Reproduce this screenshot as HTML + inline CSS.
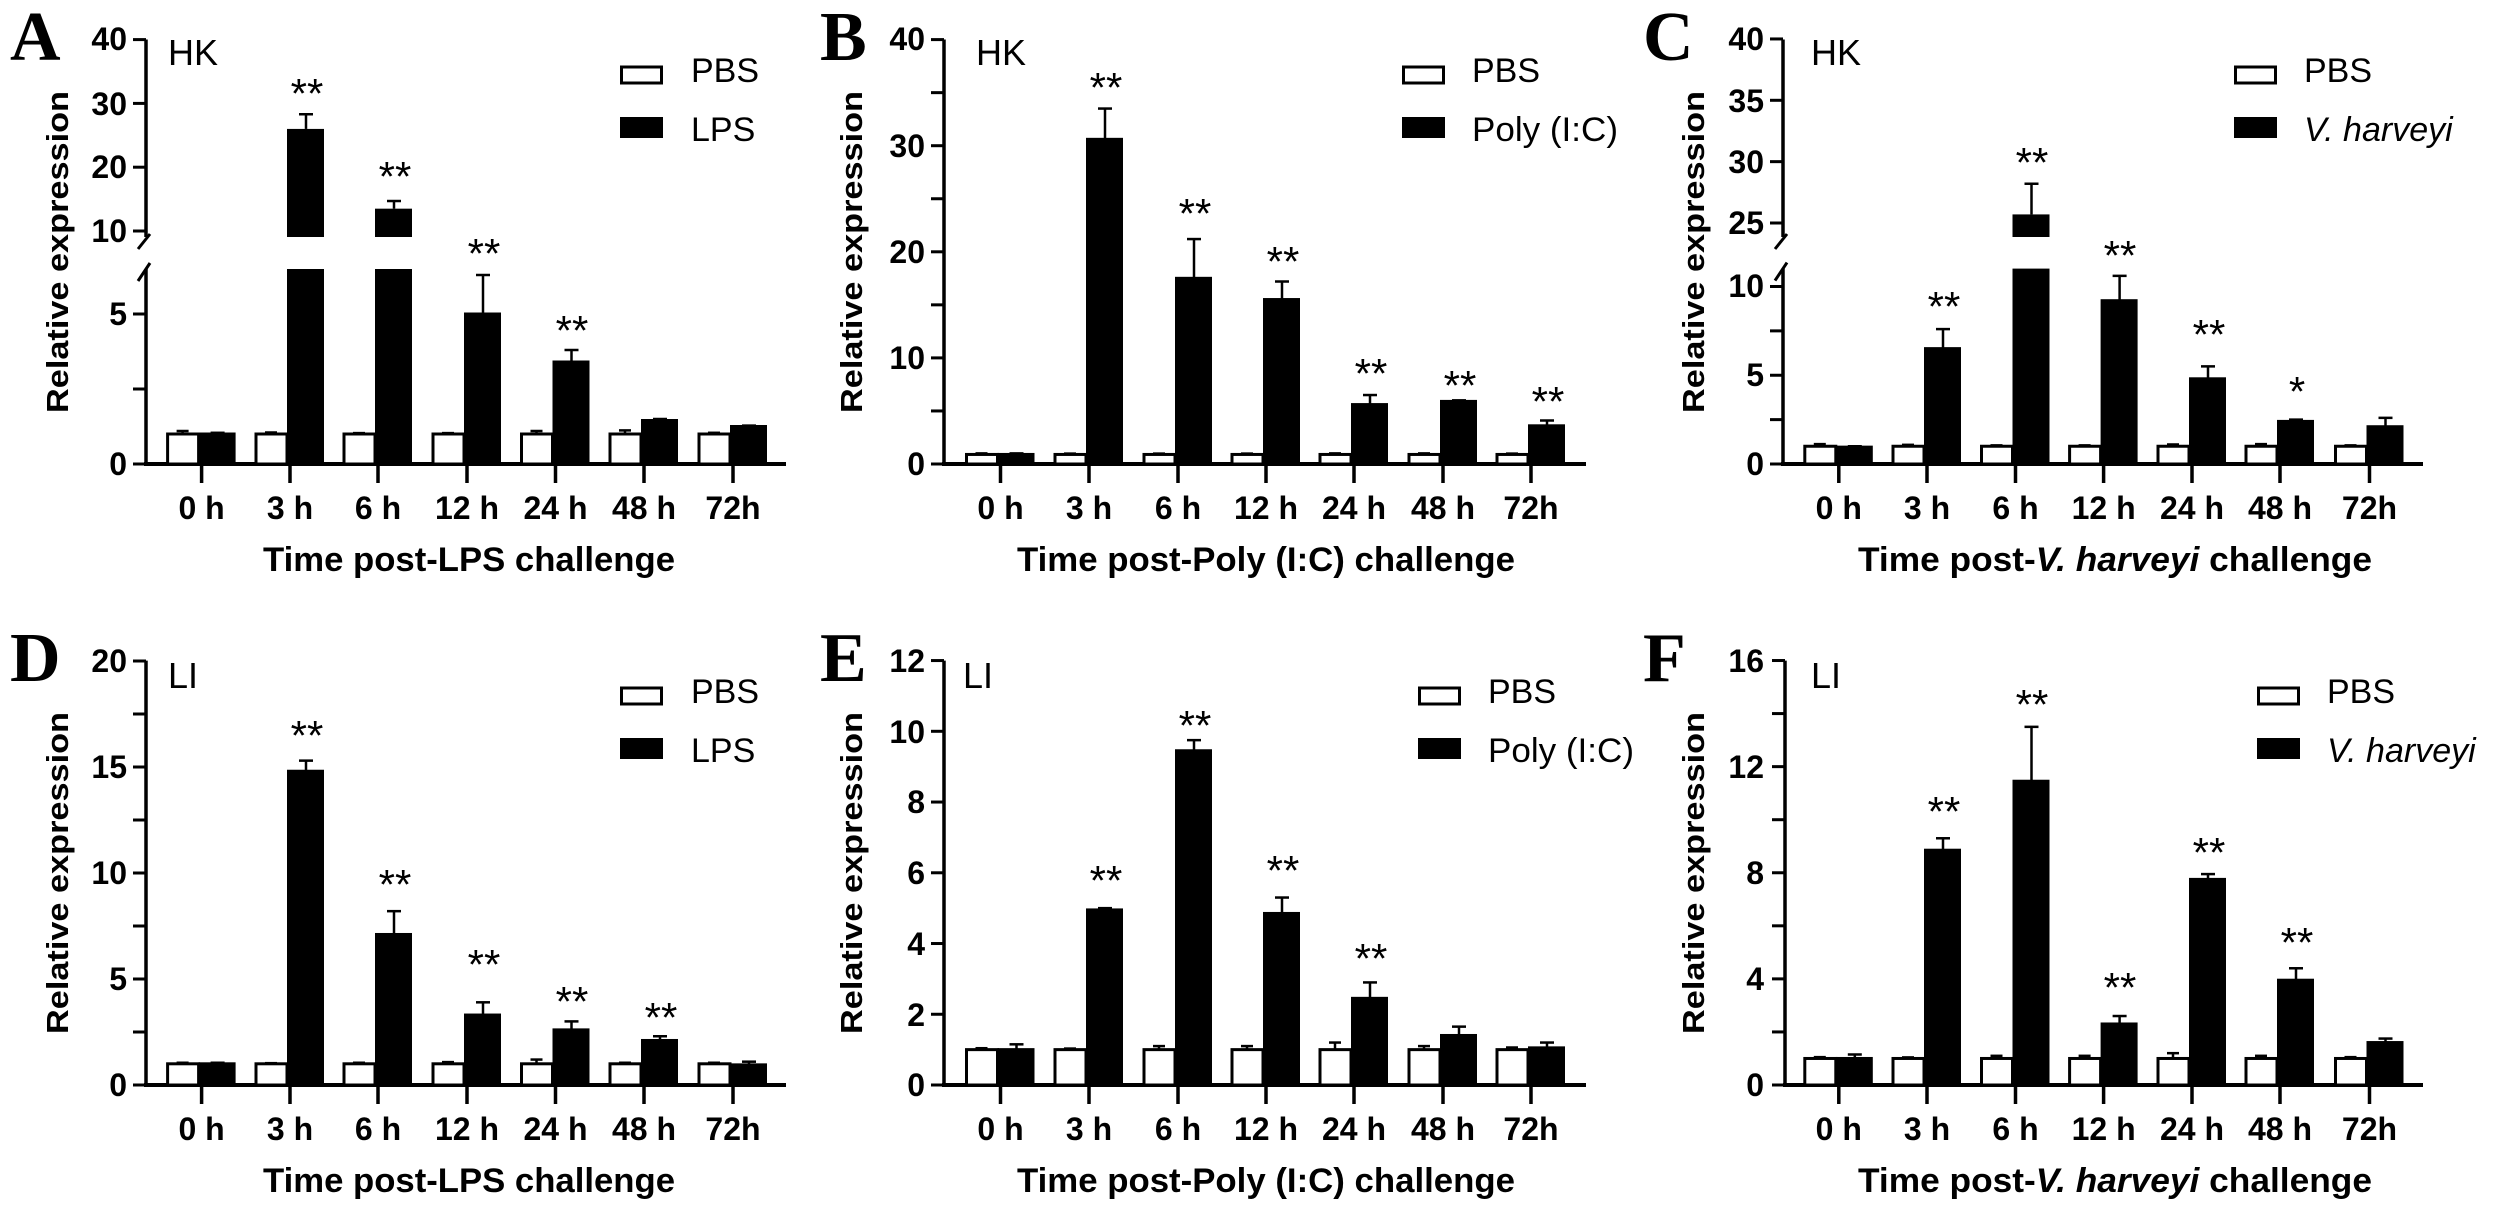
<!DOCTYPE html>
<html><head><meta charset="utf-8"><style>
html,body{margin:0;padding:0;background:#fff}
svg{display:block}
text{font-family:"Liberation Sans",Arial,sans-serif;fill:#000}
.t{font-weight:bold;font-size:32px}
.yl{font-weight:bold;font-size:32px;text-anchor:end}
.xl{font-weight:bold;font-size:32px;text-anchor:middle}
.tt{font-weight:bold;font-size:34px;text-anchor:middle}
.yt{font-weight:bold;font-size:31px;text-anchor:middle}
.lg{font-size:34px}
.st{font-size:42px;text-anchor:middle}
.pl{font-family:"Liberation Serif",serif;font-weight:bold;font-size:70px}
.hk{font-size:36px}
</style></head><body>
<svg id="s" width="2500" height="1213" viewBox="0 0 2500 1213" xmlns="http://www.w3.org/2000/svg">
<g id="g"></g>
<!-- panel letters -->
<text class="pl" x="10" y="60">A</text>
<text class="pl" x="820" y="60">B</text>
<text class="pl" x="1643" y="60">C</text>
<text class="pl" x="10" y="681">D</text>
<text class="pl" x="820" y="681">E</text>
<text class="pl" x="1643" y="681">F</text>
<!-- HK / LI -->
<text class="hk" x="168" y="65">HK</text>
<text class="hk" x="976" y="65">HK</text>
<text class="hk" x="1811" y="65">HK</text>
<text class="hk" x="168" y="688">LI</text>
<text class="hk" x="963" y="688">LI</text>
<text class="hk" x="1811" y="688">LI</text>
<!-- y titles -->
<text class="yt" transform="translate(68,252) rotate(-90)" textLength="322" lengthAdjust="spacingAndGlyphs">Relative expression</text>
<text class="yt" transform="translate(862,252) rotate(-90)" textLength="322" lengthAdjust="spacingAndGlyphs">Relative expression</text>
<text class="yt" transform="translate(1704,252) rotate(-90)" textLength="322" lengthAdjust="spacingAndGlyphs">Relative expression</text>
<text class="yt" transform="translate(68,873) rotate(-90)" textLength="322" lengthAdjust="spacingAndGlyphs">Relative expression</text>
<text class="yt" transform="translate(862,873) rotate(-90)" textLength="322" lengthAdjust="spacingAndGlyphs">Relative expression</text>
<text class="yt" transform="translate(1704,873) rotate(-90)" textLength="322" lengthAdjust="spacingAndGlyphs">Relative expression</text>
<!-- x titles -->
<text class="tt" x="469" y="571" textLength="412" lengthAdjust="spacingAndGlyphs">Time post-LPS challenge</text>
<text class="tt" x="1266" y="571" textLength="498" lengthAdjust="spacingAndGlyphs">Time post-Poly (I:C) challenge</text>
<text class="tt" x="2115" y="571" textLength="514" lengthAdjust="spacingAndGlyphs">Time post-<tspan font-style="italic">V. harveyi</tspan> challenge</text>
<text class="tt" x="469" y="1192" textLength="412" lengthAdjust="spacingAndGlyphs">Time post-LPS challenge</text>
<text class="tt" x="1266" y="1192" textLength="498" lengthAdjust="spacingAndGlyphs">Time post-Poly (I:C) challenge</text>
<text class="tt" x="2115" y="1192" textLength="514" lengthAdjust="spacingAndGlyphs">Time post-<tspan font-style="italic">V. harveyi</tspan> challenge</text>
<!-- x labels -->
<g class="xl">
<text class="xl" x="201.6" y="519">0 h</text><text class="xl" x="290" y="519">3 h</text><text class="xl" x="378" y="519">6 h</text><text class="xl" x="467" y="519">12 h</text><text class="xl" x="555.5" y="519">24 h</text><text class="xl" x="644" y="519">48 h</text><text class="xl" x="733" y="519">72h</text>
<text class="xl" x="1000.5" y="519">0 h</text><text class="xl" x="1089" y="519">3 h</text><text class="xl" x="1178" y="519">6 h</text><text class="xl" x="1266" y="519">12 h</text><text class="xl" x="1354" y="519">24 h</text><text class="xl" x="1443" y="519">48 h</text><text class="xl" x="1531" y="519">72h</text>
<text class="xl" x="1838.8" y="519">0 h</text><text class="xl" x="1927" y="519">3 h</text><text class="xl" x="2015.5" y="519">6 h</text><text class="xl" x="2103.6" y="519">12 h</text><text class="xl" x="2192" y="519">24 h</text><text class="xl" x="2280" y="519">48 h</text><text class="xl" x="2369.5" y="519">72h</text>
<text class="xl" x="201.6" y="1140">0 h</text><text class="xl" x="290" y="1140">3 h</text><text class="xl" x="378" y="1140">6 h</text><text class="xl" x="467" y="1140">12 h</text><text class="xl" x="555.5" y="1140">24 h</text><text class="xl" x="644" y="1140">48 h</text><text class="xl" x="733" y="1140">72h</text>
<text class="xl" x="1000.5" y="1140">0 h</text><text class="xl" x="1089" y="1140">3 h</text><text class="xl" x="1178" y="1140">6 h</text><text class="xl" x="1266" y="1140">12 h</text><text class="xl" x="1354" y="1140">24 h</text><text class="xl" x="1443" y="1140">48 h</text><text class="xl" x="1531" y="1140">72h</text>
<text class="xl" x="1838.8" y="1140">0 h</text><text class="xl" x="1927" y="1140">3 h</text><text class="xl" x="2015.5" y="1140">6 h</text><text class="xl" x="2103.6" y="1140">12 h</text><text class="xl" x="2192" y="1140">24 h</text><text class="xl" x="2280" y="1140">48 h</text><text class="xl" x="2369.5" y="1140">72h</text>
</g>
<!-- y tick labels -->
<text class="yl" x="127" y="50">40</text><text class="yl" x="127" y="115">30</text><text class="yl" x="127" y="178">20</text><text class="yl" x="127" y="242">10</text><text class="yl" x="127" y="325">5</text><text class="yl" x="127" y="475">0</text>
<text class="yl" x="925" y="50">40</text><text class="yl" x="925" y="157">30</text><text class="yl" x="925" y="263">20</text><text class="yl" x="925" y="369">10</text><text class="yl" x="925" y="475">0</text>
<text class="yl" x="1764" y="50">40</text><text class="yl" x="1764" y="112">35</text><text class="yl" x="1764" y="173">30</text><text class="yl" x="1764" y="234">25</text><text class="yl" x="1764" y="297">10</text><text class="yl" x="1764" y="386">5</text><text class="yl" x="1764" y="475">0</text>
<text class="yl" x="127" y="672">20</text><text class="yl" x="127" y="778">15</text><text class="yl" x="127" y="884">10</text><text class="yl" x="127" y="990">5</text><text class="yl" x="127" y="1096">0</text>
<text class="yl" x="925" y="672">12</text><text class="yl" x="925" y="743">10</text><text class="yl" x="925" y="813">8</text><text class="yl" x="925" y="884">6</text><text class="yl" x="925" y="955">4</text><text class="yl" x="925" y="1026">2</text><text class="yl" x="925" y="1096">0</text>
<text class="yl" x="1764" y="672">16</text><text class="yl" x="1764" y="778">12</text><text class="yl" x="1764" y="884">8</text><text class="yl" x="1764" y="990">4</text><text class="yl" x="1764" y="1096">0</text>
<!-- legends -->
<text class="lg" x="691" y="82">PBS</text><text class="lg" x="691" y="141">LPS</text>
<text class="lg" x="1472" y="82">PBS</text><text class="lg" x="1472" y="141" textLength="146" lengthAdjust="spacingAndGlyphs">Poly (I:C)</text>
<text class="lg" x="2304" y="82">PBS</text><text class="lg" x="2304" y="141" font-style="italic">V. harveyi</text>
<text class="lg" x="691" y="703">PBS</text><text class="lg" x="691" y="762">LPS</text>
<text class="lg" x="1488" y="703">PBS</text><text class="lg" x="1488" y="762" textLength="146" lengthAdjust="spacingAndGlyphs">Poly (I:C)</text>
<text class="lg" x="2327" y="703">PBS</text><text class="lg" x="2327" y="762" font-style="italic">V. harveyi</text>
<!-- stars -->
<text class="st" x="307" y="108">**</text><text class="st" x="395" y="191">**</text><text class="st" x="484" y="268">**</text><text class="st" x="572" y="345">**</text>
<text class="st" x="1106" y="102">**</text><text class="st" x="1195" y="228">**</text><text class="st" x="1283" y="276">**</text><text class="st" x="1371" y="388">**</text><text class="st" x="1460" y="400">**</text><text class="st" x="1548" y="416">**</text>
<text class="st" x="1944" y="321">**</text><text class="st" x="2032" y="177">**</text><text class="st" x="2120" y="270">**</text><text class="st" x="2209" y="349">**</text><text class="st" x="2297" y="406">*</text>
<text class="st" x="307" y="750">**</text><text class="st" x="395" y="899">**</text><text class="st" x="484" y="979">**</text><text class="st" x="572" y="1016">**</text><text class="st" x="661" y="1032">**</text>
<text class="st" x="1106" y="895">**</text><text class="st" x="1195" y="740">**</text><text class="st" x="1283" y="885">**</text><text class="st" x="1371" y="973">**</text>
<text class="st" x="1944" y="826">**</text><text class="st" x="2032" y="719">**</text><text class="st" x="2120" y="1002">**</text><text class="st" x="2209" y="867">**</text><text class="st" x="2297" y="957">**</text>
</svg>
<script>
const NS="http://www.w3.org/2000/svg",G=document.getElementById('g');
function el(t,a){const e=document.createElementNS(NS,t);for(const k in a)e.setAttribute(k,a[k]);G.appendChild(e);return e;}
function line(x1,y1,x2,y2,w){el('line',{x1,y1,x2,y2,stroke:'#000','stroke-width':w||3.5});}
const cA=[201.6,290,378,467,555.5,644,733],cB=[1000.5,1089,1178,1266,1354,1443,1531],cC=[1838.8,1927,2015.5,2103.6,2192,2280,2369.5];
function panel(o){
  const ax=o.ax,b=o.base;
  // axes
  if(o.brk){
    line(ax,o.top,ax,o.brk.upB);line(ax,o.brk.lowT,ax,b+2);
    line(ax-8,o.brk.upB+12,ax+4,o.brk.upB-3,3);line(ax-8,o.brk.lowT+12,ax+4,o.brk.lowT-6,3);
  } else line(ax,o.top,ax,b+2);
  line(ax-2,b,o.xe,b,4);
  o.ticks.forEach(v=>{const y=o.y(v);line(ax-13,y,ax,y,3);});
  o.cx.forEach(c=>line(c,b,c,b+19,3.5));
  // legend boxes
  el('rect',{x:o.lg+1.5,y:o.ly+67,width:40,height:16,fill:'#fff',stroke:'#000','stroke-width':3});
  el('rect',{x:o.lg,y:o.ly+117,width:43,height:21,fill:'#000'});
  // bars
  o.cx.forEach((c,i)=>{
    const p=o.pbs[i],t=o.trt[i];
    // PBS
    const yp=o.y(p[0]),ype=o.y(p[1]);
    line(c-19,yp,c-19,ype,2.5);line(c-25,ype,c-13,ype,2.5);
    el('rect',{x:c-34,y:yp,width:31,height:b-yp,fill:'#fff',stroke:'#000','stroke-width':3});
    // treatment
    const yt=o.y(t[0]),yte=o.y(t[1]),xc=c+16;
    line(xc,yt,xc,yte,2.5);line(xc-7,yte,xc+7,yte,2.5);
    if(o.brk && t[0]>o.brk.lowMax){
      el('rect',{x:c-3,y:o.brk.lowT,width:37,height:b-o.brk.lowT,fill:'#000'});
      el('rect',{x:c-3,y:yt,width:37,height:o.brk.upB-yt,fill:'#000'});
    } else el('rect',{x:c-3,y:yt-1.5,width:37,height:b-yt+1.5,fill:'#000'});
  });
}
const pb=(e)=>e.map(v=>[1,v]);
// A
panel({ax:146,xe:786,base:464,top:39.5,cx:cA,lg:620,ly:0,
 brk:{upB:237,lowT:269,lowMax:6.5},
 y:v=>v<=6.6?464-v*30:231-(v-10)*6.38,
 ticks:[0,2.5,5,10,20,30,40],
 pbs:pb([1.1,1.05,1.03,1.03,1.1,1.12,1.04]),
 trt:[[1,1.04],[26,28.3],[13.5,14.7],[5,6.3],[3.4,3.8],[1.45,1.5],[1.25,1.28]]});
// B
panel({ax:944,xe:1586,base:464,top:39.5,cx:cB,lg:1402,ly:0,
 y:v=>464-v*10.61,ticks:[0,5,10,15,20,25,30,35,40],
 pbs:[[0.9,1.0],[0.9,0.98],[0.9,0.98],[0.9,0.98],[0.9,1.0],[0.9,1.0],[0.9,0.98]],
 trt:[[0.9,1.0],[30.6,33.5],[17.5,21.2],[15.5,17.2],[5.6,6.5],[5.9,6.0],[3.6,4.1]]});
// C
panel({ax:1783,xe:2423,base:464,top:39.5,cx:cC,lg:2234,ly:0,
 brk:{upB:237,lowT:268.6,lowMax:11},
 y:v=>v<=11.1?464-v*17.75:223-(v-25)*12.27,
 ticks:[0,2.5,5,7.5,10,25,30,35,40],
 pbs:pb([1.12,1.08,1.05,1.05,1.1,1.12,1.05]),
 trt:[[0.95,1.0],[6.5,7.6],[25.7,28.2],[9.2,10.6],[4.8,5.5],[2.4,2.5],[2.1,2.6]]});
// D
panel({ax:146,xe:786,base:1085,top:660.6,cx:cA,lg:620,ly:621,
 y:v=>1085-v*21.2,ticks:[0,2.5,5,7.5,10,12.5,15,17.5,20],
 pbs:pb([1.05,1.03,1.05,1.08,1.2,1.05,1.05]),
 trt:[[1,1.05],[14.8,15.3],[7.1,8.2],[3.3,3.9],[2.6,3.0],[2.1,2.3],[0.95,1.1]]});
// E
panel({ax:944,xe:1586,base:1085,top:660.6,cx:cB,lg:1418,ly:621,
 y:v=>1085-v*35.37,ticks:[0,2,4,6,8,10,12],
 pbs:pb([1.04,1.03,1.1,1.1,1.2,1.1,1.06]),
 trt:[[1,1.15],[4.95,5.0],[9.45,9.75],[4.85,5.3],[2.45,2.9],[1.4,1.65],[1.05,1.2]]});
// F
panel({ax:1785,xe:2423,base:1085,top:660.6,cx:cC,lg:2257,ly:621,
 y:v=>1085-v*26.53,ticks:[0,2,4,6,8,10,12,14,16],
 pbs:pb([1.05,1.04,1.1,1.1,1.2,1.1,1.05]),
 trt:[[1,1.15],[8.85,9.3],[11.45,13.5],[2.3,2.6],[7.75,7.95],[3.95,4.4],[1.6,1.75]]});
</script>
</body></html>
